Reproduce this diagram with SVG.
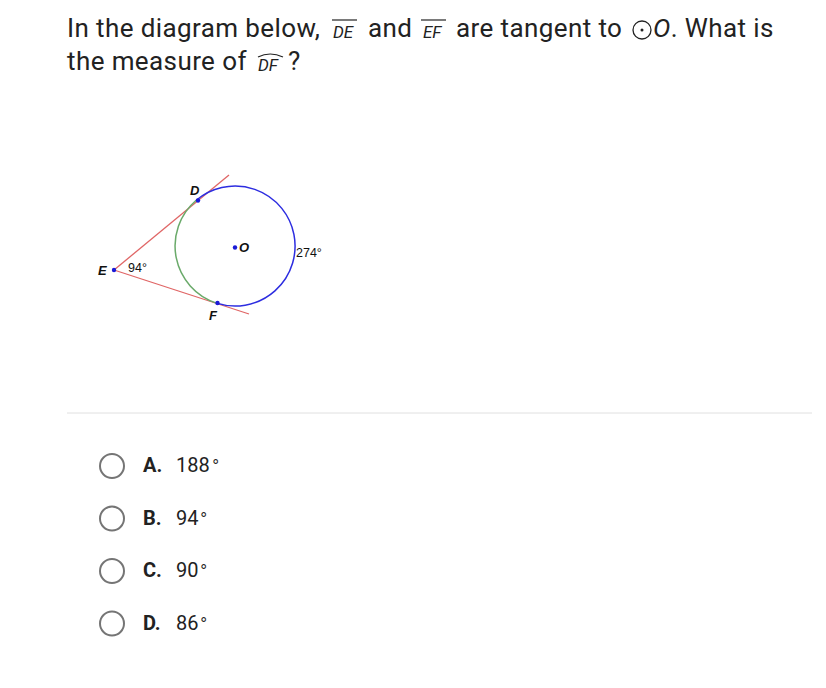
<svg xmlns="http://www.w3.org/2000/svg" width="826" height="688" viewBox="0 0 826 688">
<style>
.q{font-family:Roboto,"Liberation Sans",sans-serif;font-size:26px;letter-spacing:0.4px;fill:#222}
.sm{font-family:Roboto,"Liberation Sans",sans-serif;font-size:17px;font-style:italic;fill:#222}
.lbl{font-family:"Liberation Sans",Arial,sans-serif;font-size:13px;font-weight:bold;font-style:italic;fill:#111}
.ang{font-family:"Liberation Sans",Arial,sans-serif;font-size:12.5px;fill:#111}
.tan{stroke:#e06666;stroke-width:1.3;fill:none}
.dot{fill:#1a1ad6}
.radio{fill:none;stroke:#757575;stroke-width:2}
.opt{font-family:Roboto,"Liberation Sans",sans-serif;font-size:20px;fill:#222}
.ob{font-weight:bold}
.deg{font-size:15px}
</style>
<rect width="826" height="688" fill="#ffffff"/>
<g id="question">
<text class="q" x="67" y="37">In the diagram below,</text>
<text class="sm" x="333" y="38">DE</text>
<line x1="332" y1="20" x2="357" y2="20" stroke="#222" stroke-width="1.2"/>
<text class="q" x="368" y="37">and</text>
<text class="sm" x="423" y="38">EF</text>
<line x1="421" y1="20" x2="446" y2="20" stroke="#222" stroke-width="1.2"/>
<text class="q" x="456" y="37">are tangent to</text>
<circle cx="642" cy="30" r="9" fill="none" stroke="#222" stroke-width="1.3"/>
<circle cx="642" cy="30" r="1.5" fill="#222"/>
<text class="q" x="653" y="37"><tspan font-style="italic">O</tspan>. What is</text>
<text class="q" x="67" y="70">the measure of</text>
<text class="sm" x="258" y="71">DF</text>
<path d="M258 57 Q270 51 283 57" fill="none" stroke="#222" stroke-width="1.2"/>
<text class="q" x="288" y="70">?</text>
</g>
<g id="figure">
<g id="connectors">
<line class="tan" x1="114" y1="270" x2="229" y2="175"/>
<line class="tan" x1="114" y1="270" x2="249" y2="314"/>
</g>
<g id="circle">
<path d="M196.2 200.3 A60 60 0 1 1 216.6 303.1" fill="none" stroke="#2d2de0" stroke-width="1.5"/>
<path d="M196.2 200.3 A60 60 0 0 0 216.6 303.1" fill="none" stroke="#6aaa6a" stroke-width="1.5"/>
</g>
<g id="points">
<circle class="dot" cx="114" cy="270" r="2.2"/>
<circle class="dot" cx="198" cy="200.5" r="2.2"/>
<circle class="dot" cx="217.5" cy="303" r="2.2"/>
<circle class="dot" cx="235" cy="247.5" r="2.2"/>
</g>
<g id="labels">
<text class="lbl" x="190" y="195">D</text>
<text class="lbl" x="98" y="275">E</text>
<text class="lbl" x="209" y="320">F</text>
<text class="lbl" x="239" y="252">O</text>
<text class="ang" x="128" y="272">94°</text>
<text class="ang" x="296" y="257">274°</text>
</g>
</g>
<line id="divider" x1="67" y1="413" x2="812" y2="413" stroke="#e0e0e0" stroke-width="1"/>
<g id="optA"><circle class="radio" cx="112" cy="466" r="12"/><text class="opt ob" x="143" y="472">A.</text><text class="opt" x="176" y="472">188<tspan class="deg" dx="1" dy="-6">∘</tspan></text></g>
<g id="optB"><circle class="radio" cx="112" cy="518.5" r="12"/><text class="opt ob" x="143" y="524.5">B.</text><text class="opt" x="176" y="524.5">94<tspan class="deg" dx="1" dy="-6">∘</tspan></text></g>
<g id="optC"><circle class="radio" cx="112" cy="571" r="12"/><text class="opt ob" x="143" y="577">C.</text><text class="opt" x="176" y="577">90<tspan class="deg" dx="1" dy="-6">∘</tspan></text></g>
<g id="optD"><circle class="radio" cx="112" cy="623.5" r="12"/><text class="opt ob" x="143" y="629.5">D.</text><text class="opt" x="176" y="629.5">86<tspan class="deg" dx="1" dy="-6">∘</tspan></text></g>
</svg>
